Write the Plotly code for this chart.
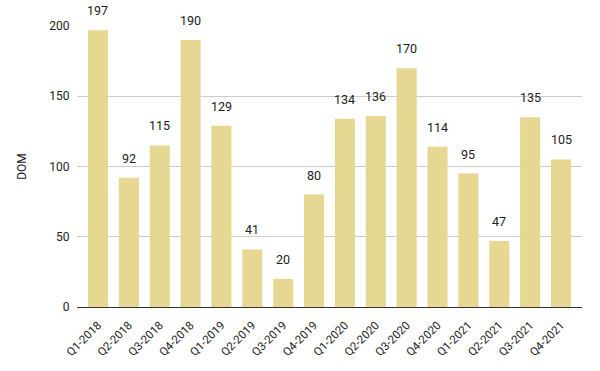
import plotly.graph_objects as go

categories = ["Q1-2018", "Q2-2018", "Q3-2018", "Q4-2018", "Q1-2019", "Q2-2019", "Q3-2019", "Q4-2019",
              "Q1-2020", "Q2-2020", "Q3-2020", "Q4-2020", "Q1-2021", "Q2-2021", "Q3-2021", "Q4-2021"]
dom = [197, 92, 115, 190, 129, 41, 20, 80, 134, 136, 170, 114, 95, 47, 135, 105]
y_ticks = [0, 50, 100, 150, 200]

FONT = "Roboto"

fig = go.Figure(go.Bar(
    x=categories, y=dom,
    marker=dict(color="#e6d792", line=dict(width=0)),
    hoverinfo="x+y",
))

for c, v in zip(categories, dom):
    fig.add_annotation(x=c, y=v, text=str(v), showarrow=False, yanchor="bottom",
                       yshift=10, font=dict(family=FONT, size=12.5, color="#222222"))

fig.update_layout(
    width=600, height=371,
    margin=dict(l=77, r=18, t=26, b=64),
    paper_bgcolor="white", plot_bgcolor="white",
    bargap=0.35,
    showlegend=False,
    font=dict(family=FONT, size=12, color="#222222"),
)
fig.update_xaxes(tickangle=-45, tickfont=dict(family=FONT, size=11.5, color="#222222"), showgrid=False,
                 showline=False, ticks="outside", ticklen=6, tickcolor="rgba(0,0,0,0)",
                 range=[-0.68, 15.68])
fig.update_yaxes(range=[0, 200], tickvals=y_ticks, showgrid=True, gridcolor="#cccccc",
                 zeroline=True, zerolinecolor="#333333", zerolinewidth=1,
                 tickfont=dict(family=FONT, size=12, color="#222222"),
                 title=dict(text="DOM", font=dict(family=FONT, size=12, color="#222222"), standoff=20),
                 ticks="outside", ticklen=4, tickcolor="rgba(0,0,0,0)")

fig.write_html("out.html")
